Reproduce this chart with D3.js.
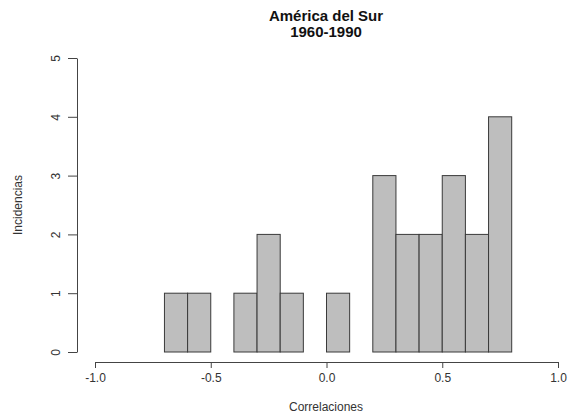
<!DOCTYPE html>
<html><head><meta charset="utf-8">
<script src="https://cdn.jsdelivr.net/npm/d3@7"></script>
<style>body{margin:0;background:#fff}svg{display:block}text{font-family:"Liberation Sans",Arial,sans-serif}</style>
</head><body><svg id="c" width="574" height="417"></svg>
<script>
const breaks = [-1.0,-0.9,-0.8,-0.7,-0.6,-0.5,-0.4,-0.3,-0.2,-0.1,0.0,0.1,0.2,0.3,0.4,0.5,0.6,0.7,0.8,0.9,1.0];
const counts = [0,0,0,1,1,0,1,2,1,0,1,0,3,2,2,3,2,4,0,0];
const xTicks = [-1.0,-0.5,0.0,0.5,1.0];
const yTicks = [0,1,2,3,4,5];
const titleLines = ["América del Sur","1960-1990"];
const xLabel = "Correlaciones";
const yLabel = "Incidencias";

const svg = d3.select("#c");
const x = d3.scaleLinear().domain([-1,1]).range([95,558]);
const y = d3.scaleLinear().domain([0,5]).range([352,58]);

const bins = counts.map((c,i)=>({x0:breaks[i],x1:breaks[i+1],n:c}));
svg.append("g").selectAll("rect").data(bins).join("rect")
  .attr("x",d=>x(d.x0)).attr("width",d=>x(d.x1)-x(d.x0))
  .attr("y",d=>y(d.n)).attr("height",d=>y(0)-y(d.n))
  .attr("fill","#bebebe").attr("stroke","#3a3a3a").attr("stroke-width",1);

const col="#444";
// x axis
const xa = svg.append("g").attr("transform","translate(0,362)")
  .call(d3.axisBottom(x).tickValues(xTicks).tickFormat(d=>d3.format(".1f")(d).replace("−","-")).tickSize(6).tickSizeOuter(0));
xa.select(".domain").attr("stroke",col);
xa.selectAll(".tick line").attr("stroke",col);
xa.selectAll("text").attr("font-size",12).attr("fill","#333").attr("dy","0.9em").attr("y",9);
// y axis
const ya = svg.append("g").attr("transform","translate(77,0)")
  .call(d3.axisLeft(y).tickValues(yTicks).tickFormat(d3.format("d")).tickSize(9).tickSizeOuter(0));
ya.select(".domain").attr("stroke",col);
ya.selectAll(".tick line").attr("stroke",col);
ya.selectAll(".tick text").attr("font-size",12).attr("fill","#333")
  .attr("x",0).attr("dy",0).attr("text-anchor","middle")
  .attr("transform","translate(-21,0) rotate(-90) translate(0,4)");

svg.append("g").selectAll("text").data(titleLines).join("text")
  .attr("x",326).attr("y",(d,i)=>21+i*16).attr("text-anchor","middle")
  .attr("font-size",15).attr("font-weight","bold").attr("fill","#111").text(d=>d);
svg.append("text").attr("x",326).attr("y",411).attr("text-anchor","middle")
  .attr("font-size",12).attr("fill","#333").text(xLabel);
svg.append("text").attr("transform","translate(22,205) rotate(-90)").attr("text-anchor","middle")
  .attr("font-size",12).attr("fill","#333").text(yLabel);
</script></body></html>
